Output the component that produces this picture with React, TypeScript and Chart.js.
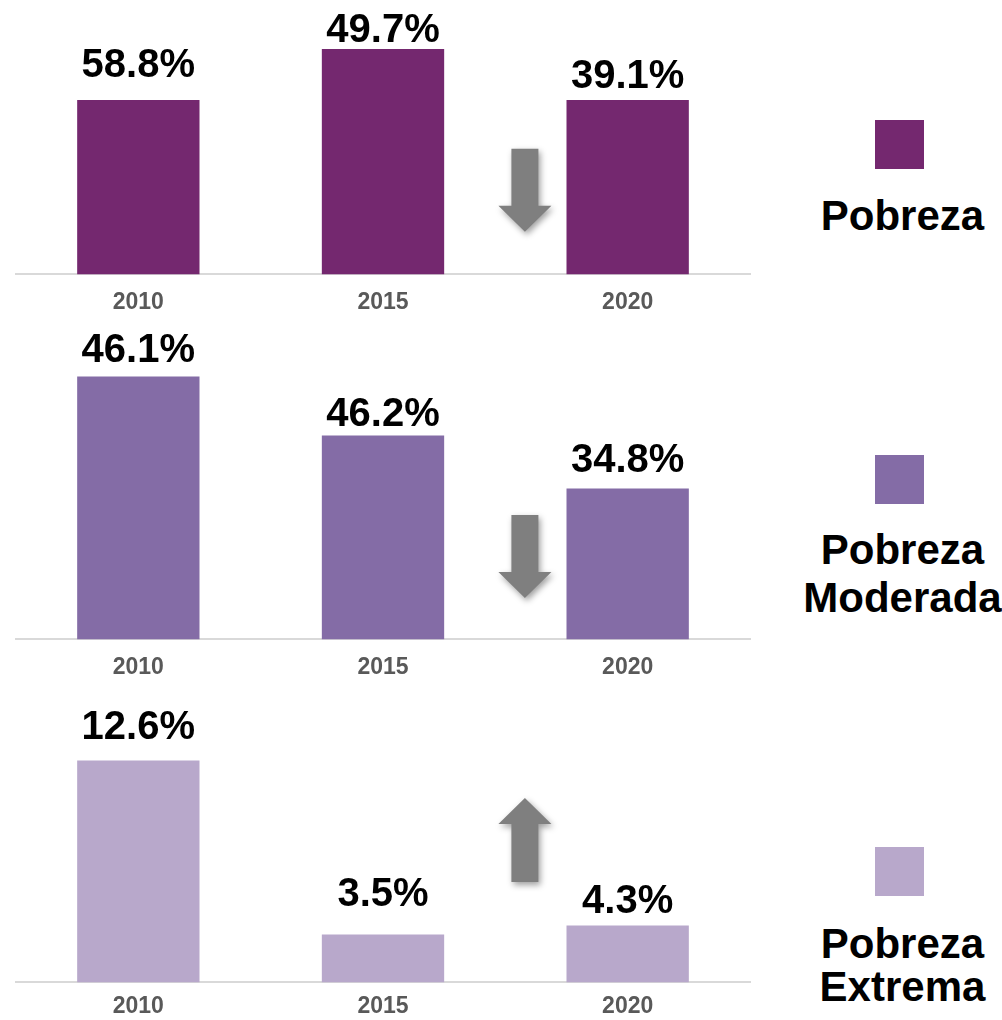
import React, { useEffect, useRef } from "react";
import { Chart, registerables } from "chart.js";

Chart.register(...registerables);

// ---------- data ----------
const years = ["2010", "2015", "2020"];

// bar heights as drawn (relative units, same px-per-unit in every panel)
const pobrezaBars = [69.6, 90, 69.6];
const moderadaBars = [105.2, 81.6, 60.4];
const extremaBars = [88.8, 19.2, 22.8];

// value labels printed above the bars
const pobrezaLabels = ["58.8%", "49.7%", "39.1%"];
const moderadaLabels = ["46.1%", "46.2%", "34.8%"];
const extremaLabels = ["12.6%", "3.5%", "4.3%"];

// legend names
const pobrezaName = ["Pobreza"];
const moderadaName = ["Pobreza", "Moderada"];
const extremaName = ["Pobreza", "Extrema"];

// trend arrows (from tail value to tip value on each panel's y axis)
const pobrezaArrow = { tail: 50.2, tip: 17 };
const moderadaArrow = { tail: 49.8, tip: 16.6 };
const extremaArrow = { tail: 40.2, tip: 73.8 };

const FONT = '"Liberation Sans", Arial, Helvetica, sans-serif';

type PanelCfg = {
  bars: number[];
  labels: string[];
  name: string[];
  color: string;
  arrow: { tail: number; tip: number };
  top: number;
  height: number;
  padTop: number;
  yMax: number;
  tickPad: number;
  labelGaps: number[];
  legendSquareTop: number;
  legendTextTop: number;
  legendLine: number;
};

const panels: PanelCfg[] = [
  {
    bars: pobrezaBars,
    labels: pobrezaLabels,
    name: pobrezaName,
    color: "#74286F",
    arrow: pobrezaArrow,
    top: 0,
    height: 330,
    padTop: 24,
    yMax: 100,
    tickPad: 14,
    labelGaps: [23, 7, 12],
    legendSquareTop: 120,
    legendTextTop: 192,
    legendLine: 48,
  },
  {
    bars: moderadaBars,
    labels: moderadaLabels,
    name: moderadaName,
    color: "#846CA6",
    arrow: moderadaArrow,
    top: 324,
    height: 371,
    padTop: 15.4,
    yMax: 120,
    tickPad: 14,
    labelGaps: [14, 9, 16],
    legendSquareTop: 455,
    legendTextTop: 526,
    legendLine: 48,
  },
  {
    bars: extremaBars,
    labels: extremaLabels,
    name: extremaName,
    color: "#B8A8CB",
    arrow: extremaArrow,
    top: 690,
    height: 340,
    padTop: 42.4,
    yMax: 100,
    tickPad: 10,
    labelGaps: [21, 28, 12],
    legendSquareTop: 847,
    legendTextTop: 922,
    legendLine: 43,
  },
];

const CANVAS_W = 770;

function Panel({ cfg }: { cfg: PanelCfg }) {
  const ref = useRef<HTMLCanvasElement | null>(null);

  useEffect(() => {
    if (!ref.current) return;
    const overlay = {
      id: "overlay",
      afterDatasetsDraw(chart: any) {
        const ctx = chart.ctx as CanvasRenderingContext2D;
        const meta = chart.getDatasetMeta(0);
        // value labels
        ctx.save();
        ctx.fillStyle = "#000000";
        ctx.font = `bold 40px ${FONT}`;
        ctx.textAlign = "center";
        ctx.textBaseline = "alphabetic";
        meta.data.forEach((el: any, i: number) => {
          ctx.fillText(cfg.labels[i], el.x, el.y - cfg.labelGaps[i]);
        });
        ctx.restore();

        // arrow
        const xs = chart.scales.x;
        const ys = chart.scales.y;
        const cx = xs.getPixelForValue(1.58);
        const yTail = ys.getPixelForValue(cfg.arrow.tail);
        const yTip = ys.getPixelForValue(cfg.arrow.tip);
        const dir = yTip > yTail ? 1 : -1;
        const headLen = 26;
        const headHalf = 26.5;
        const shaftHalf = 13.5;
        const yHead = yTip - dir * headLen;
        ctx.save();
        ctx.shadowColor = "rgba(0,0,0,0.38)";
        ctx.shadowBlur = 6;
        ctx.shadowOffsetX = 2;
        ctx.shadowOffsetY = 3;
        ctx.fillStyle = "#7F7F7F";
        ctx.beginPath();
        ctx.moveTo(cx - shaftHalf, yTail);
        ctx.lineTo(cx + shaftHalf, yTail);
        ctx.lineTo(cx + shaftHalf, yHead);
        ctx.lineTo(cx + headHalf, yHead);
        ctx.lineTo(cx, yTip);
        ctx.lineTo(cx - headHalf, yHead);
        ctx.lineTo(cx - shaftHalf, yHead);
        ctx.closePath();
        ctx.fill();
        ctx.restore();
      },
    };

    const chart = new Chart(ref.current, {
      type: "bar",
      data: {
        labels: years,
        datasets: [
          {
            data: cfg.bars,
            backgroundColor: cfg.color,
            borderWidth: 0,
            barPercentage: 0.5,
            categoryPercentage: 1,
          },
        ],
      },
      options: {
        responsive: false,
        animation: false,
        devicePixelRatio: 1,
        layout: {
          padding: { left: 16, right: CANVAS_W - 750, top: cfg.padTop, bottom: 0 },
        },
        plugins: {
          legend: { display: false },
          tooltip: { enabled: false },
          title: { display: false },
        },
        scales: {
          x: {
            grid: { display: false, drawTicks: false },
            border: { display: true, color: "#D9D9D9", width: 2 },
            ticks: {
              color: "#595959",
              padding: cfg.tickPad,
              font: { family: FONT, size: 23, weight: "bold" },
            },
          },
          y: {
            display: false,
            min: 0,
            max: cfg.yMax,
          },
        },
      },
      plugins: [overlay],
    });
    return () => chart.destroy();
  }, [cfg]);

  return (
    <>
      <canvas
        ref={ref}
        width={CANVAS_W}
        height={cfg.height}
        style={{
          position: "absolute",
          left: 0,
          top: cfg.top,
          width: CANVAS_W,
          height: cfg.height,
        }}
      />
      <div
        style={{
          position: "absolute",
          left: 875,
          top: cfg.legendSquareTop,
          width: 49,
          height: 49,
          background: cfg.color,
        }}
      />
      <div
        style={{
          position: "absolute",
          left: 800,
          width: 205,
          top: cfg.legendTextTop,
          textAlign: "center",
          fontFamily: FONT,
          fontWeight: "bold",
          fontSize: 42,
          lineHeight: `${cfg.legendLine}px`,
          color: "#000000",
          whiteSpace: "nowrap",
        }}
      >
        {cfg.name.map((t, i) => (
          <div key={i}>{t}</div>
        ))}
      </div>
    </>
  );
}

export default function App() {
  return (
    <div
      style={{
        position: "absolute",
        left: 0,
        top: 0,
        width: 1002,
        height: 1020,
        overflow: "hidden",
        background: "#FFFFFF",
      }}
    >
      {panels.map((p, i) => (
        <Panel key={i} cfg={p} />
      ))}
    </div>
  );
}
